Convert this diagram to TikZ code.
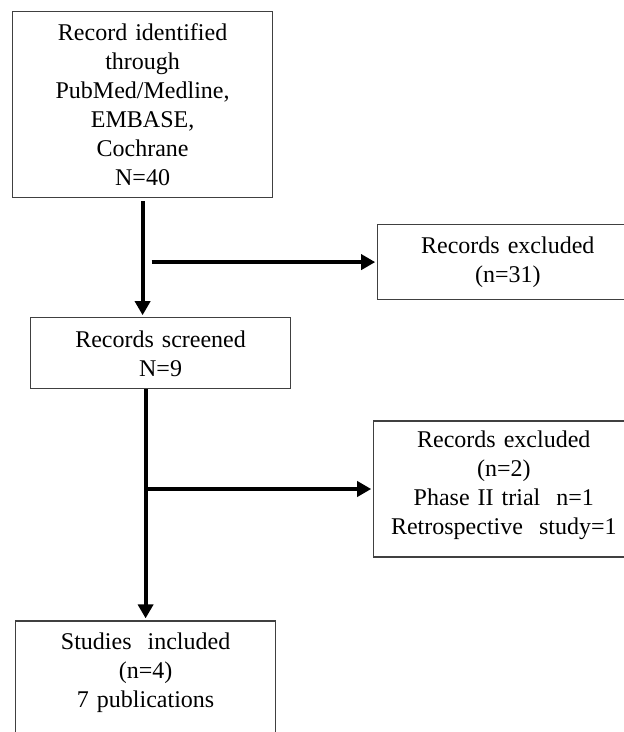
\documentclass[tikz,border=0pt]{standalone}
\usepackage{fontspec}
\setmainfont{Liberation Serif}
\usetikzlibrary{arrows.meta,positioning}

\begin{document}
\begin{tikzpicture}[
	> = {Triangle[length=7pt, width=7.5pt]}, % arrow head style
	shorten > = 1pt, % don't touch arrow head to node
	F/.style={->, line width=2pt},  % flow arrows
	B/.style={rectangle, draw=black!75, line width=0.6pt, text width=122pt, inner xsep=4pt, align=center, font=\fontsize{12pt}{14.5pt}\selectfont},  %boxes
	]
	\useasboundingbox (0,0) rectangle (312pt,-366pt);
	\clip (0,0) rectangle (312pt,-366pt);

	% Boxes and their relative positions
	\node[B, minimum height=93pt, anchor=north west] (Id) at (6pt,-5.5pt) {Record identified\\ through\\ PubMed/Medline,\\ EMBASE,\\ Cochrane\\ N=40};
	\node[B, minimum height=37.5pt] (Ex1) [below right = 106.5pt and 52pt of Id.north east] {Records excluded\\ (n=31)};
	\node[B, minimum height=35.5pt] (Sc) [below right = 59.5pt and 9pt of Id.south west] {Records screened\\ N=9};
	\node[B, minimum height=68pt, text depth=50pt] (Ex2) [below right = 15.5pt and 41pt of Sc.south east] {Records excluded\\ (n=2)\\ Phase II trial\ \ n=1\\ Retrospective\ \ study=1};
	\node[B, text depth=60pt, inner ysep=6pt] (In) [below = 115.5pt of Sc.south, xshift=-7.5pt] {Studies\ \ included\\ (n=4)\\ 7 publications};

	% Arrows connecting boxes
	\path[F] (Id.south) edge[shorten <=1.5pt] (Id.south |- Sc.north);
	\path[F] (Id.south |- Ex1.west) edge[shorten <=4.5pt] (Ex1.west);
	\path[F] (In.north |- Sc.south) edge (In.north);
	\path[F] (In.north |- Ex2.west) edge (Ex2.west);
\end{tikzpicture}
\end{document}
